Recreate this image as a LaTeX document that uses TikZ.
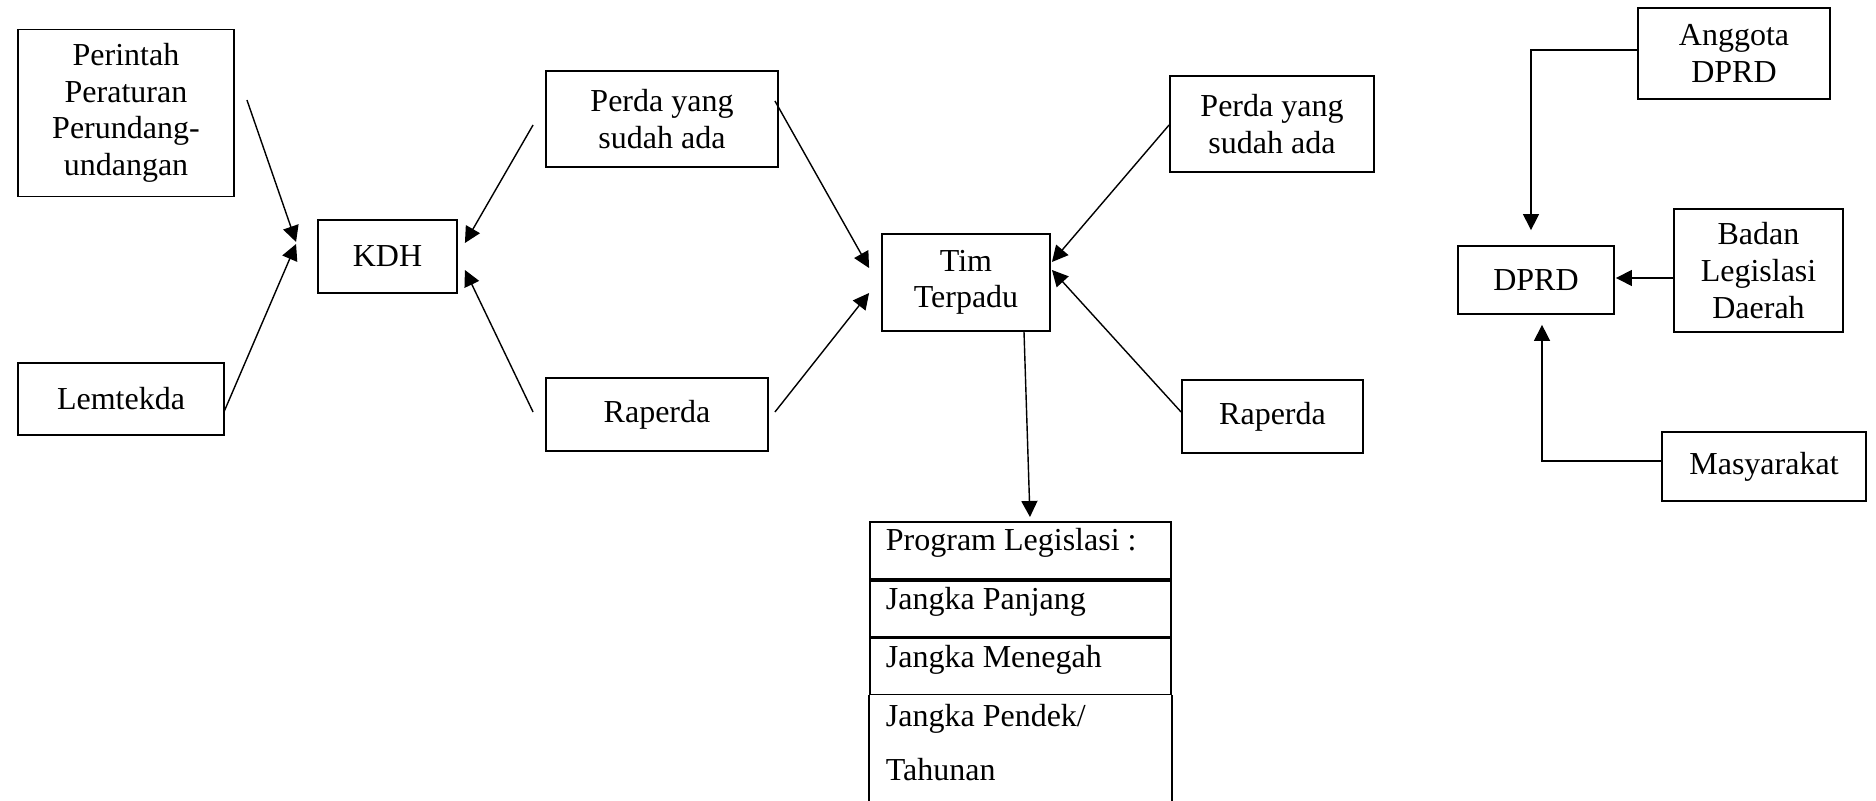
\documentclass[tikz,border=0pt]{standalone}
\usepackage{fontspec}
\setmainfont{Liberation Serif}
\usepackage{tikz}
\usetikzlibrary{arrows.meta,calc}

\begin{document}
\begin{tikzpicture}[x=0.01cm,y=-0.01cm,>={Triangle[length=1.6mm,width=1.6mm]},line width=0.4pt,
  font=\fontsize{9.1}{10.4}\selectfont,
  box/.style={draw,line width=0.5pt,inner sep=0pt,align=center},
  row/.style={draw,line width=0.5pt,anchor=north west,text width=2.69cm,inner xsep=0.16cm,inner ysep=0pt,align=flush left}]
\useasboundingbox (0,0) rectangle (1876,801);

% left part
\node[box,minimum width=2.16cm,minimum height=1.67cm] (perintah) at (126,113) {Perintah\\Peraturan\\Perundang-\\undangan};
\node[box,minimum width=2.06cm,minimum height=0.72cm] (lemtekda) at (121,399) {Lemtekda};
\node[box,minimum width=1.39cm,minimum height=0.73cm] (kdh) at (387.5,256.5) {KDH};
\node[box,minimum width=2.32cm,minimum height=0.96cm] (perda1) at (662,119) {Perda yang\\sudah ada};
\node[box,minimum width=2.22cm,minimum height=0.73cm] (raperda1) at (657,414.5) {Raperda};
\node[box,minimum width=1.68cm,minimum height=0.97cm] (tim) at (966,282.5) {Tim\\Terpadu};
\node[box,minimum width=2.04cm,minimum height=0.96cm] (perda2) at (1272,124) {Perda yang\\sudah ada};
\node[box,minimum width=1.81cm,minimum height=0.73cm] (raperda2) at (1272.5,416.5) {Raperda};

\path[->] ([shift={(12,-13)}]perintah.east) edge ([shift={(-21,-14.5)}]kdh.west);
\path[->] ([shift={(-1,13)}]lemtekda.east) edge ([shift={(-21,-12.5)}]kdh.west);
\path[->] ([shift={(-12,6)}]perda1.west) edge ([shift={(7,-13.5)}]kdh.east);
\path[->] ([shift={(-12,-2.5)}]raperda1.west) edge ([shift={(7,13.5)}]kdh.east);
\path[->] ([shift={(-4,-18)}]perda1.east) edge ([shift={(-12,-14.5)}]tim.west);
\path[->] ([shift={(6,-2.5)}]raperda1.east) edge ([shift={(-12,10.5)}]tim.west);
\path[->] ([shift={(0,1)}]perda2.west) edge ([shift={(1,-20.5)}]tim.east);
\path[->] ([shift={(0,-4.5)}]raperda2.west) edge ([shift={(1,-12.5)}]tim.east);

% program legislasi
\node[row,text height=0.29cm,text depth=0.28cm] (prog0) at (869,521) {Program Legislasi :};
\node[row,text height=0.29cm,text depth=0.27cm] (prog1) at (prog0.south west) {Jangka Panjang};
\node[row,text height=0.29cm,text depth=0.27cm] (prog2) at (prog1.south west) {Jangka Menegah};
\node[row,draw=none,inner ysep=0.08cm,font=\fontsize{9.1}{15.3}\selectfont] (prog3) at (prog2.south west) {Jangka Pendek/\\Tahunan};
\draw[line width=0.5pt] (prog2.south west) -- ++(0,130);
\draw[line width=0.5pt] (prog2.south east) -- ++(0,130);

\path[->] ([shift={(58,0)}]tim.south) edge ([shift={(9.5,-4)}]prog0.north);

% right part
\node[box,minimum width=1.92cm,minimum height=0.91cm] (anggota) at (1734,53.5) {Anggota\\DPRD};
\node[box,minimum width=1.56cm,minimum height=0.68cm] (dprd) at (1536,280) {DPRD};
\node[box,minimum width=1.69cm,minimum height=1.23cm] (badan) at (1758.5,270.5) {Badan\\Legislasi\\Daerah};
\node[box,minimum width=2.04cm,minimum height=0.69cm] (masy) at (1764,466.5) {Masyarakat};

\draw[->] ([shift={(0,-3.5)}]anggota.west) -| ([shift={(-5,-15)}]dprd.north);
\draw[->] ([shift={(0,7.5)}]badan.west) -- ([shift={(1,-2)}]dprd.east);
\draw[->] ([shift={(0,-5.5)}]masy.west) -| ([shift={(6,10)}]dprd.south);
\end{tikzpicture}
\end{document}
